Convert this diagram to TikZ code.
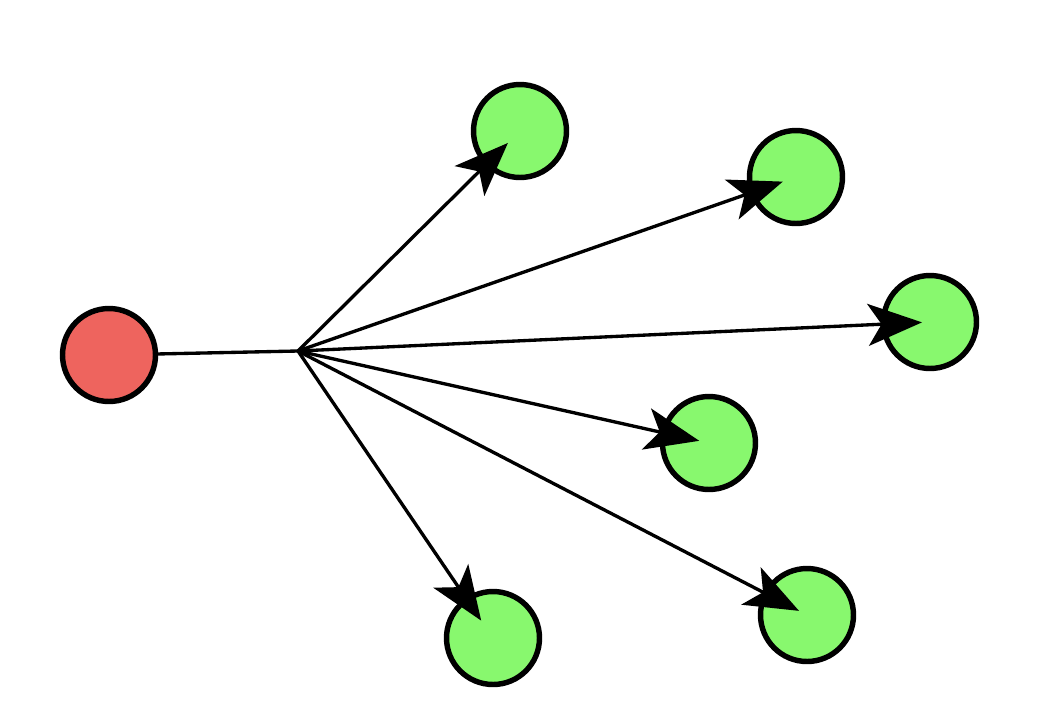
\documentclass[tikz,border=0pt]{standalone}
\usetikzlibrary{arrows.meta}
\definecolor{cred}{HTML}{EE645E}
\definecolor{cgreen}{HTML}{88F86E}
\tikzset{
  every picture/.style={line width=1.9pt},
  dot/.style={circle, draw=black, fill=#1, line width=3.1pt, minimum size=1.86cm, inner sep=0pt},
  dot/.default=cgreen,
  arrow/.style={-{Stealth[length=1.08cm, width=0.84cm, inset=0.27cm]}, draw=black, line width=1.9pt},
}

\begin{document}
\begin{tikzpicture}[x=0.02cm, y=-0.02cm]
  \useasboundingbox (0,0) rectangle (1038,724);
  \node[dot=cred] (source) at (109,355) {};
  \coordinate (hub) at (298,351);
  \node[dot] (leaf1) at (520,131) {};
  \node[dot] (leaf2) at (796,177) {};
  \node[dot] (leaf3) at (930,322) {};
  \node[dot] (leaf4) at (709,443) {};
  \node[dot] (leaf5) at (493,638) {};
  \node[dot] (leaf6) at (807,615) {};
  \draw (source) -- (hub);
  \draw[arrow, shorten >=0.34cm] (hub) -- (leaf1.center);
  \draw[arrow, shorten >=0.28cm] (hub) -- (leaf2.center);
  \draw[arrow, shorten >=0.16cm] (hub) -- (leaf3.center);
  \draw[arrow, shorten >=0.2cm] (hub) -- (leaf4.center);
  \draw[arrow, shorten >=0.42cm] (hub) -- (leaf5.center);
  \draw[arrow, shorten >=0.18cm] (hub) -- (leaf6.center);
\end{tikzpicture}
\end{document}
